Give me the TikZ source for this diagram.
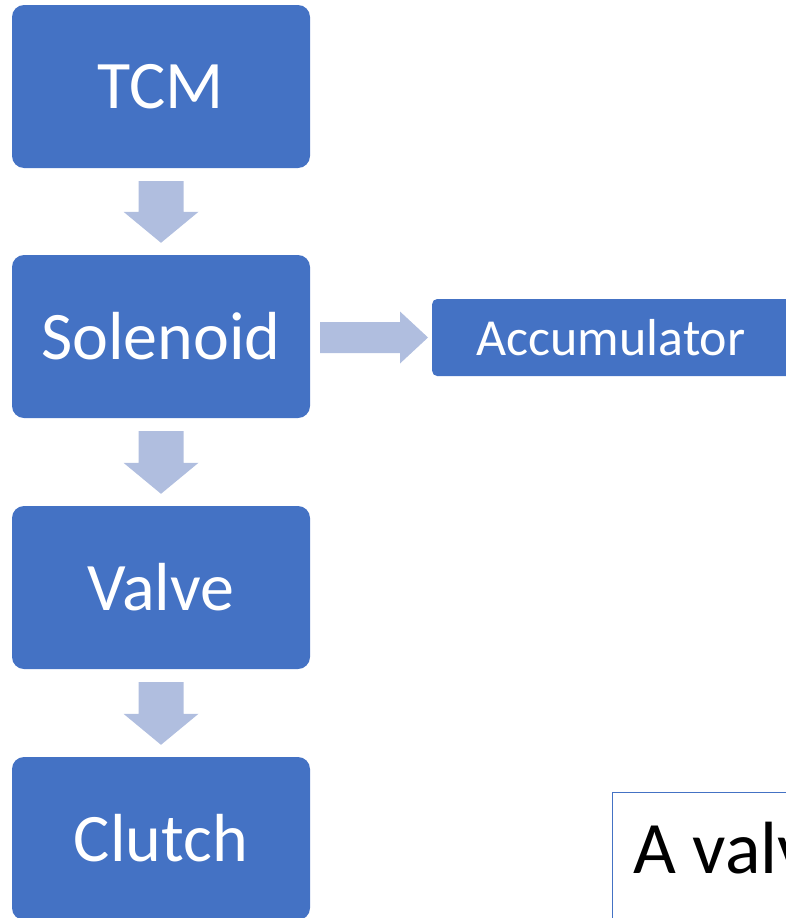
\documentclass[tikz,border=0pt]{standalone}
\usepackage{fontspec}
\setmainfont{Carlito}
\usetikzlibrary{calc}
\definecolor{boxblue}{HTML}{4472C4}
\definecolor{arrblue}{HTML}{B0BEDF}
\tikzset{
  blockbox/.style={fill=boxblue, draw=none, rounded corners=12pt, minimum width=298pt, minimum height=163pt, text=white, font=\fontsize{68}{80}\selectfont, inner sep=0pt},
  accbox/.style={fill=boxblue, draw=none, rounded corners=5pt, minimum width=380pt, minimum height=77pt, text=white, font=\fontsize{52}{60}\selectfont, inner sep=0pt},
  arrfill/.style={fill=arrblue, draw=none}
}
\newcommand\downblockarrow[2]{%
  \fill[arrfill] ($(#1.south)+(-22.5,13)$) -- ($(#1.south)+(22.5,13)$)
   -- ($(#2.north)+(22.5,-43)$) -- ($(#2.north)+(37.5,-43)$)
   -- ($(#2.north)+(0,-12)$) -- ($(#2.north)+(-37.5,-43)$)
   -- ($(#2.north)+(-22.5,-43)$) -- cycle;}
\begin{document}
\begin{tikzpicture}[x=1pt,y=-1pt]
\useasboundingbox (0,0) rectangle (786,918);
\clip (0,0) rectangle (786,918);
\node[blockbox] (tcm) at (161,86.5) {TCM};
\node[blockbox] (sol) at (161,336.5) {Solenoid};
\node[blockbox] (valve) at (161,587.5) {Valve};
\node[blockbox] (clutch) at (161,838.5) {Clutch};
\node[accbox, anchor=west] (acc) at (432,337.5) {};
\node[text=white, font=\fontsize{52}{60}\selectfont, inner sep=0pt] (acclabel) at (611,337.5) {Accumulator};
\draw[boxblue, line width=1.5pt, fill=white] (612.5,792.5) rectangle (900,1000);
\node[anchor=base west, font=\fontsize{74}{88}\selectfont, inner sep=0pt] (note) at (633,873) {A valve};
\downblockarrow{tcm}{sol}
\downblockarrow{sol}{valve}
\downblockarrow{valve}{clutch}
\fill[arrfill] ($(sol.east |- acc.west)+(10,-15.5)$) -- ($(acc.west)+(-32,-15.5)$)
  -- ($(acc.west)+(-32,-26)$) -- ($(acc.west)+(-4,0)$)
  -- ($(acc.west)+(-32,26)$) -- ($(acc.west)+(-32,15.5)$)
  -- ($(sol.east |- acc.west)+(10,15.5)$) -- cycle;
\end{tikzpicture}
\end{document}
